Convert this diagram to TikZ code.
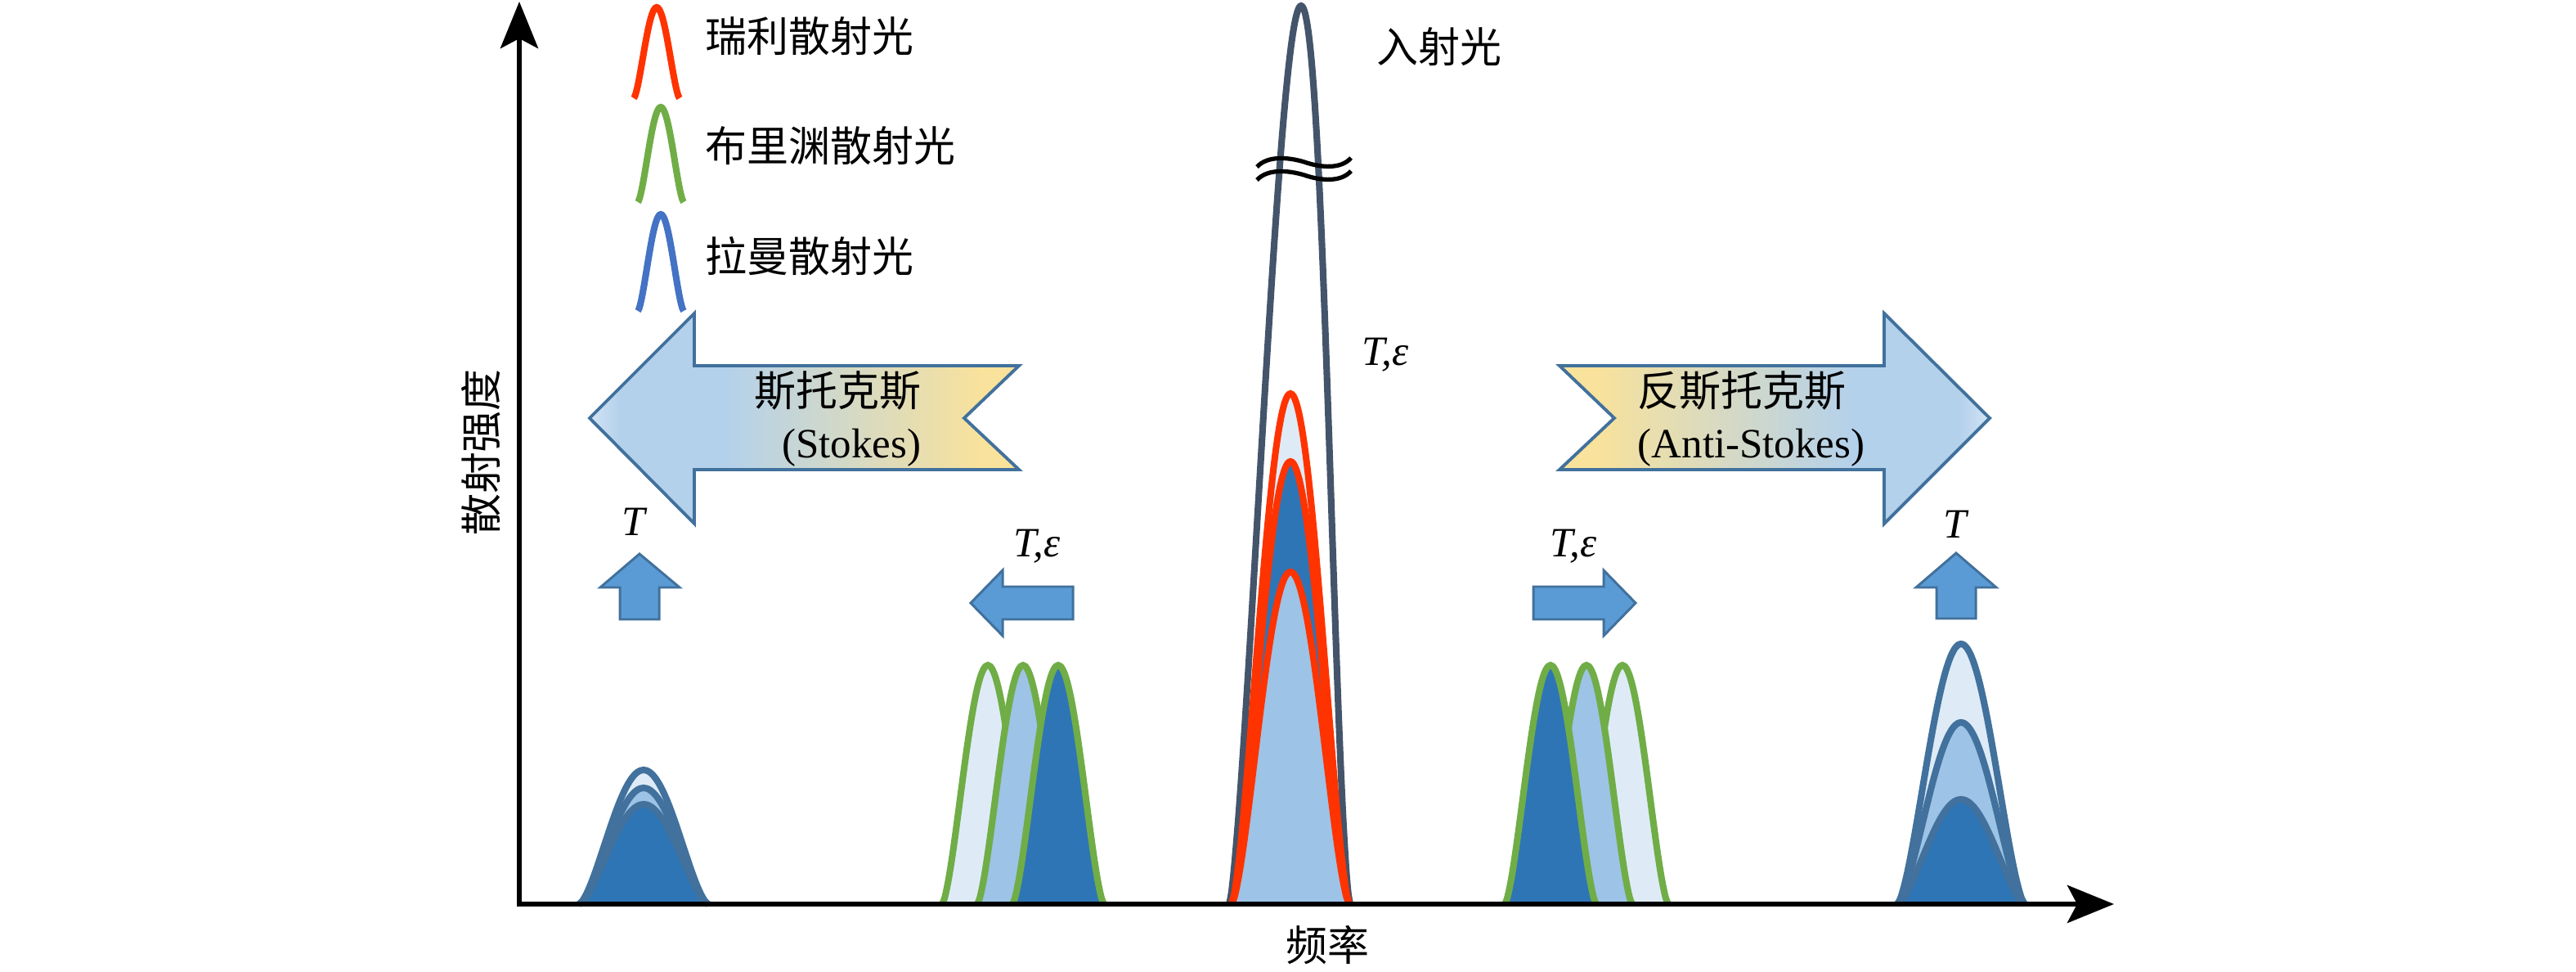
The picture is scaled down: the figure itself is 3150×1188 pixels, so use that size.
\documentclass[tikz,border=0pt]{standalone}
\usepackage{fontspec}
\setmainfont{Liberation Serif}
\newfontfamily\cjk{Noto Sans CJK SC}
\usetikzlibrary{arrows.meta}

\definecolor{rayred}{HTML}{FF3300}
\definecolor{brigreen}{HTML}{70AD47}
\definecolor{ramblue}{HTML}{4472C4}
\definecolor{pumpgray}{HTML}{44546A}
\definecolor{peakline}{HTML}{41719C}
\definecolor{fillA}{HTML}{DEEBF7}
\definecolor{fillB}{HTML}{9DC3E6}
\definecolor{fillC}{HTML}{2E75B6}
\definecolor{smallblue}{HTML}{5B9BD5}
\definecolor{tipblue}{HTML}{D2E3F5}
\definecolor{bodyblue}{HTML}{B4D1EB}
\definecolor{tailyellow}{HTML}{F9E29B}

\pgfdeclarehorizontalshading{shiftshade}{100bp}{color(0bp)=(tipblue); color(25bp)=(tipblue); color(28.5bp)=(bodyblue); color(41bp)=(bodyblue); color(71bp)=(tailyellow); color(100bp)=(tailyellow)}

% Glockenkurve: Mitte, Basis, halbe Breite, Hoehe
\newcommand{\bell}[4]{plot[domain=-1:1,samples=41,smooth] ({#1+#3*\x},{#2-#4*pow(max(cos(90*\x),0.001),1.5)})}

\begin{document}
\begin{tikzpicture}[x=0.01cm, y=-0.01cm,
	font=\fontsize{14.5}{18}\selectfont,
	cjk/.style={font=\fontsize{14.5}{18}\selectfont\cjk, inner sep=0pt},
	lbl/.style={inner sep=0pt},
	peakstroke/.style={line width=2.3pt},
	bigarrow/.style={draw=peakline, line width=1.1pt, shading=shiftshade},
	smallarrow/.style={draw=peakline, line width=0.85pt, fill=smallblue},
	axisline/.style={line width=1.7pt, line join=miter}]
	
	\useasboundingbox (0,0) rectangle (3150,1188);
	
	% Legende
	\draw[rayred, peakstroke] \bell{803}{120}{28}{111};
	\draw[brigreen, peakstroke] \bell{808}{247}{28}{116};
	\draw[ramblue, peakstroke] \bell{808}{380}{28}{118};
	\node[cjk, anchor=west] (rayleigh) at (862,44) {瑞利散射光};
	\node[cjk, anchor=west] (brillouin) at (862,178) {布里渊散射光};
	\node[cjk, anchor=west] (raman) at (862,313) {拉曼散射光};
	
	% grosse Pfeile
	\shade[bigarrow] (721,511) -- (849,383) -- (849,447) -- (1246,447) -- (1179,511)
	-- (1246,574) -- (849,574) -- (849,640) -- cycle;
	\shade[bigarrow, shading angle=180] (1907,447) -- (2304,447) -- (2304,383) -- (2433,511)
	-- (2304,640) -- (2304,574) -- (1907,574) -- (1974,511) -- cycle;
	\node[cjk, anchor=east, align=right] (stokes) at (1127,512) {斯托克斯\\{\rmfamily (Stokes)}};
	\node[cjk, anchor=west, align=left] (antistokes) at (2002,512) {反斯托克斯\\{\rmfamily (Anti-Stokes)}};
	
	% kleine Pfeile
	\filldraw[smallarrow] (782,677) -- (831,718) -- (806,718) -- (806,757) -- (758,757) -- (758,718) -- (734,718) -- cycle;
	\filldraw[smallarrow] (1187,737) -- (1226,697) -- (1226,717) -- (1312,717) -- (1312,757) -- (1226,757) -- (1226,777) -- cycle;
	\filldraw[smallarrow] (2000,737) -- (1961,697) -- (1961,717) -- (1875,717) -- (1875,757) -- (1961,757) -- (1961,777) -- cycle;
	\filldraw[smallarrow] (2392,676) -- (2441,718) -- (2416,718) -- (2416,756) -- (2368,756) -- (2368,718) -- (2343,718) -- cycle;
	\node[lbl] (tleft) at (776,638) {\textit{T}};
	\node[lbl] (teleft) at (1268,668) {\textit{T,ε}};
	\node[lbl] (teright) at (1924,668) {\textit{T,ε}};
	\node[lbl] (tright) at (2392,641) {\textit{T}};
	\node[lbl] (tecenter) at (1694,434) {\textit{T,ε}};
	
	% Raman Stokes
	\fill[fillA] \bell{787}{1105}{79}{164} -- cycle;
	\draw[peakline, peakstroke] \bell{787}{1105}{79}{164};
	\fill[fillB] \bell{787}{1105}{79}{142} -- cycle;
	\draw[peakline, peakstroke] \bell{787}{1105}{79}{142};
	\fill[fillC] \bell{787}{1105}{79}{122} -- cycle;
	\draw[peakline, peakstroke] \bell{787}{1105}{79}{122};
	
	% Brillouin Stokes
	\foreach \c/\f in {1208/fillA, 1251/fillB, 1294/fillC}{
		\fill[\f] \bell{\c}{1105}{56}{292} -- cycle;
		\draw[brigreen, peakstroke] \bell{\c}{1105}{56}{292};
	}
	
	% Eingangslicht
	\draw[pumpgray, peakstroke] plot[domain=-1:1,samples=61,smooth]
	({1577+74*\x+14*pow(max(cos(90*\x),0.001),1.5)},{1105-1098*pow(max(cos(90*\x),0.001),1.5)});
	\draw[line width=1.5pt] (1537,204) .. controls (1550,190) and (1575,192) .. (1595,198)
	.. controls (1615,205) and (1640,207) .. (1652,193);
	\draw[line width=1.5pt] (1537,220) .. controls (1550,206) and (1575,208) .. (1595,214)
	.. controls (1615,221) and (1640,223) .. (1652,209);
	\node[cjk] (pump) at (1760,57) {入射光};
	
	% Rayleigh
	\foreach \h/\f in {624/fillA, 541/fillC, 406/fillB}{
		\fill[\f] \bell{1578}{1105}{72}{\h} -- cycle;
		\draw[rayred, peakstroke] \bell{1578}{1105}{72}{\h};
	}
	
	% Brillouin Anti-Stokes
	\foreach \c/\f in {1984/fillA, 1940/fillB, 1896/fillC}{
		\fill[\f] \bell{\c}{1105}{56}{292} -- cycle;
		\draw[brigreen, peakstroke] \bell{\c}{1105}{56}{292};
	}
	
	% Raman Anti-Stokes
	\fill[fillA] \bell{2398}{1105}{78}{318} -- cycle;
	\draw[peakline, peakstroke] \bell{2398}{1105}{78}{318};
	\fill[fillB] \bell{2398}{1105}{78}{222} -- cycle;
	\draw[peakline, peakstroke] \bell{2398}{1105}{78}{222};
	\fill[fillC] \bell{2398}{1105}{78}{128} -- cycle;
	\draw[peakline, peakstroke] \bell{2398}{1105}{78}{128};
	
	% Achsen
	\draw[axisline, {Stealth[length=5.7mm, width=4.6mm, inset=1.2mm]}-{Stealth[length=5.7mm, width=4.6mm, inset=1.2mm]}]
	(635,2) -- (635,1105) -- (2585,1105);
	\node[cjk, rotate=90] (ylabel) at (588,553) {散射强度};
	\node[cjk] (xlabel) at (1623,1155) {频率};
	
\end{tikzpicture}
\end{document}
